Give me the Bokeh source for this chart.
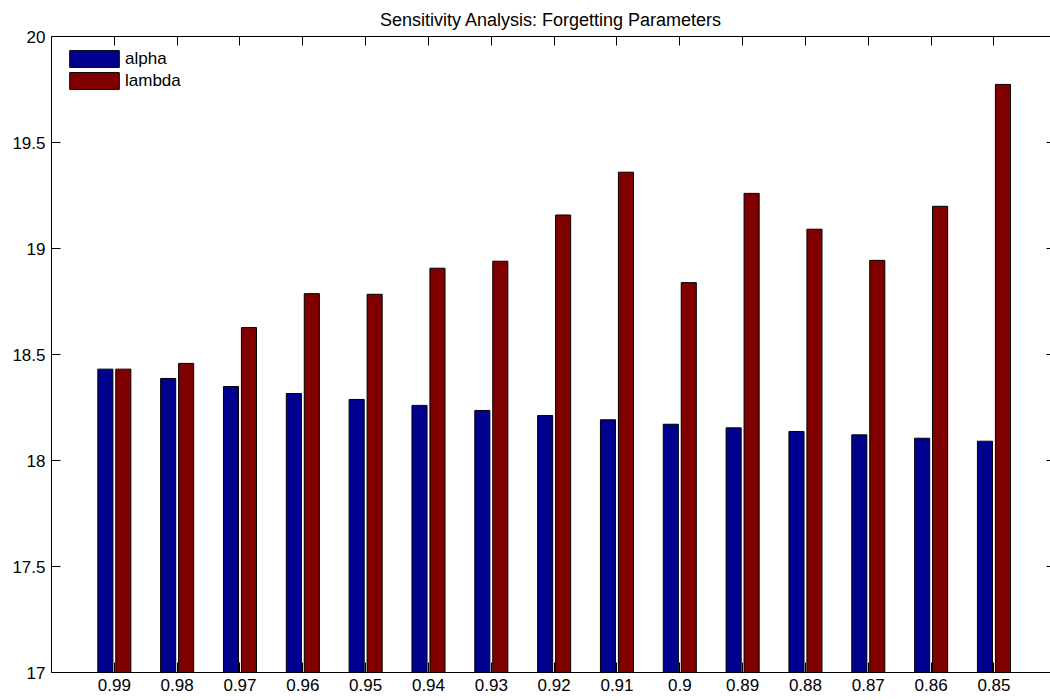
from bokeh.plotting import figure
from bokeh.models import (FixedTicker, LinearAxis, Range1d, ColumnDataSource,
                          Legend, LegendItem)
from bokeh.embed import file_html
from bokeh.resources import INLINE

title_text = "Sensitivity Analysis: Forgetting Parameters"
categories = ["0.99", "0.98", "0.97", "0.96", "0.95", "0.94", "0.93", "0.92",
              "0.91", "0.9", "0.89", "0.88", "0.87", "0.86", "0.85"]
alpha_vals = [18.431, 18.387, 18.349, 18.316, 18.288, 18.260, 18.236, 18.212,
              18.192, 18.171, 18.154, 18.137, 18.121, 18.105, 18.091]
lambda_vals = [18.431, 18.458, 18.627, 18.787, 18.784, 18.907, 18.940, 19.158,
               19.360, 18.839, 19.260, 19.091, 18.944, 19.199, 19.774]
series_names = ["alpha", "lambda"]
series_colors = ["#00008F", "#800000"]
y_ticks = [17, 17.5, 18, 18.5, 19, 19.5, 20]
y_tick_labels = ["17", "17.5", "18", "18.5", "19", "19.5", "20"]

FONT = "Liberation Sans"
OFF = 0.143
BW = 0.24

xpos = list(range(1, len(categories) + 1))
src = ColumnDataSource(dict(
    xa=[x - OFF for x in xpos],
    xl=[x + OFF for x in xpos],
    alpha=alpha_vals,
    lam=lambda_vals,
))

p = figure(width=1050, height=700,
           x_range=Range1d(0, 15.9), y_range=Range1d(17, 20),
           output_backend="svg", toolbar_location=None,
           min_border_left=51, min_border_right=0,
           min_border_top=36, min_border_bottom=28,
           x_axis_location=None, y_axis_location=None,
           title=title_text)
p.title.align = "center"
p.title.offset = 3
p.title.text_font = FONT
p.title.text_font_size = "18px"
p.title.text_font_style = "normal"
p.title.text_color = "black"
p.title.standoff = 14
p.grid.visible = False
p.outline_line_color = None
p.background_fill_color = "white"

r_a = p.vbar(x="xa", top="alpha", bottom=17, width=BW, source=src,
             fill_color=series_colors[0], line_color="black", line_width=1)
r_l = p.vbar(x="xl", top="lam", bottom=17, width=BW, source=src,
             fill_color=series_colors[1], line_color="black", line_width=1)

xt = FixedTicker(ticks=xpos)
yt = FixedTicker(ticks=y_ticks)


def style(ax):
    ax.axis_line_color = "black"
    ax.axis_line_width = 1
    ax.major_tick_line_color = "black"
    ax.major_tick_out = 0
    ax.minor_tick_line_color = None
    ax.major_label_text_font = FONT
    ax.major_label_text_color = "black"
    ax.major_label_text_font_size = "17px"


bottom = LinearAxis(ticker=xt,
                    major_label_overrides={x: c for x, c in zip(xpos, categories)})
style(bottom)
bottom.major_tick_in = 10
bottom.major_label_standoff = 6
p.add_layout(bottom, "below")

top = LinearAxis(ticker=xt, major_label_overrides={x: "" for x in xpos})
style(top)
top.major_tick_in = 9
top.major_label_standoff = 0
p.add_layout(top, "above")

left = LinearAxis(ticker=yt,
                  major_label_overrides={t: s for t, s in zip(y_ticks, y_tick_labels)})
style(left)
left.major_tick_in = 9
left.major_label_standoff = 6
p.add_layout(left, "left")

right = LinearAxis(ticker=yt, major_label_overrides={t: "" for t in y_ticks})
style(right)
right.axis_line_color = None
right.major_tick_in = 4
right.major_label_standoff = 0
p.add_layout(right, "right")

legend = Legend(items=[LegendItem(label=series_names[0], renderers=[r_a]),
                       LegendItem(label=series_names[1], renderers=[r_l])],
                location="top_left")
legend.margin = 12
legend.padding = 0
legend.spacing = 1
legend.glyph_width = 62
legend.glyph_height = 21
legend.label_height = 21
legend.label_standoff = 0
legend.label_text_font = FONT
legend.label_text_font_size = "17px"
legend.label_text_color = "black"
legend.border_line_color = None
legend.background_fill_alpha = 0
p.add_layout(legend)

open("out.html", "w").write(file_html(p, INLINE))
